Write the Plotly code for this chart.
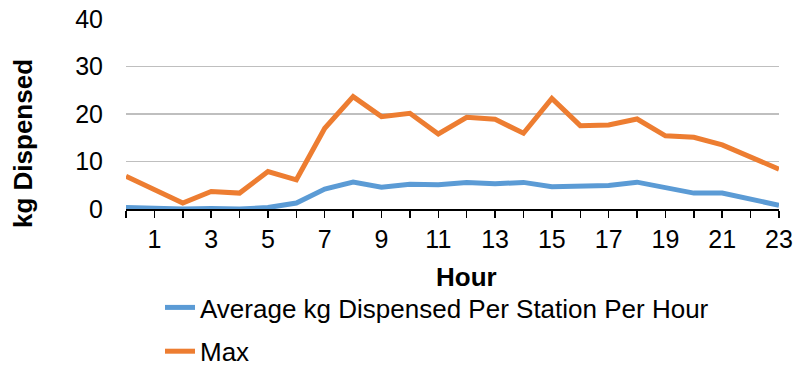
import plotly.graph_objects as go

hours = list(range(24))
tick_labels = [str(h) if h % 2 == 1 else "" for h in hours]
avg_kg = [0.3, 0.1, 0.0, 0.1, 0.0, 0.3, 1.25, 4.2, 5.65, 4.6, 5.2, 5.1,
          5.6, 5.3, 5.6, 4.7, 4.95, 4.95, 5.65, 4.6, 3.35, 3.35, 2.1, 0.8]
max_kg = [6.9, 4.05, 1.26, 3.7, 3.35, 7.9, 6.15, 17.0, 23.65, 19.45, 20.15, 15.8,
          19.3, 18.9, 15.95, 23.3, 17.55, 17.7, 18.95, 15.4, 15.1, 13.5, 11.05, 8.4]
series_names = ["Average kg Dispensed Per Station Per Hour", "Max"]

FONT = "Arial, Liberation Sans, sans-serif"
L, R, T, B = 126, 21, 19, 157
W, H = 800, 366
pw = W - L - R
ph = H - T - B

fig = go.Figure()
fig.add_trace(go.Scatter(x=hours, y=avg_kg, mode="lines", name=series_names[0],
                         line=dict(color="#5B9BD5", width=5), legendgroup="a"))
fig.add_trace(go.Scatter(x=hours, y=max_kg, mode="lines", name=series_names[1],
                         line=dict(color="#ED7D31", width=5), legendgroup="b"))

def px_x(px):
    return (px - L) / pw

def px_y(py):
    return (H - B - py) / ph

fig.update_layout(
    width=W, height=H,
    margin=dict(l=L, r=R, t=T, b=B, pad=0, autoexpand=False),
    paper_bgcolor="white", plot_bgcolor="white",
    font=dict(family=FONT, size=25, color="black"),
    xaxis=dict(range=[0, 23], tickvals=hours, ticktext=tick_labels,
               showgrid=False, zeroline=False, showline=True,
               linecolor="black", linewidth=1.5, automargin=False,
               ticks="outside", ticklen=7, tickwidth=1.5, tickcolor="black",
               tickfont=dict(size=25, family=FONT, color="black"),
               fixedrange=True),
    yaxis=dict(range=[0, 40], dtick=10, showgrid=True, gridcolor="#BFBFBF",
               gridwidth=1.3, zeroline=False, showline=False, ticks="",
               ticklabelstandoff=22, automargin=False,
               tickfont=dict(size=25, family=FONT, color="black"),
               fixedrange=True),
    showlegend=True,
    legend=dict(orientation="v", x=px_x(160), xanchor="left",
                y=px_y(284), yanchor="top",
                font=dict(size=26, family=FONT, color="black"),
                bgcolor="rgba(0,0,0,0)", tracegroupgap=7, itemwidth=30),
    annotations=[
        dict(text="<b>Hour</b>", x=px_x(466.5), y=px_y(277), xref="paper", yref="paper",
             showarrow=False, xanchor="center", yanchor="middle",
             font=dict(size=26, family=FONT, color="black")),
        dict(text="<b>kg Dispensed</b>", x=px_x(23), y=px_y(144), xref="paper", yref="paper",
             showarrow=False, xanchor="center", yanchor="middle", textangle=-90,
             font=dict(size=26, family=FONT, color="black")),
    ],
)

fig.write_html("out.html",
               config={"displayModeBar": False, "staticPlot": True},
               post_script="document.body.style.margin='0';document.body.style.overflow='hidden';")
